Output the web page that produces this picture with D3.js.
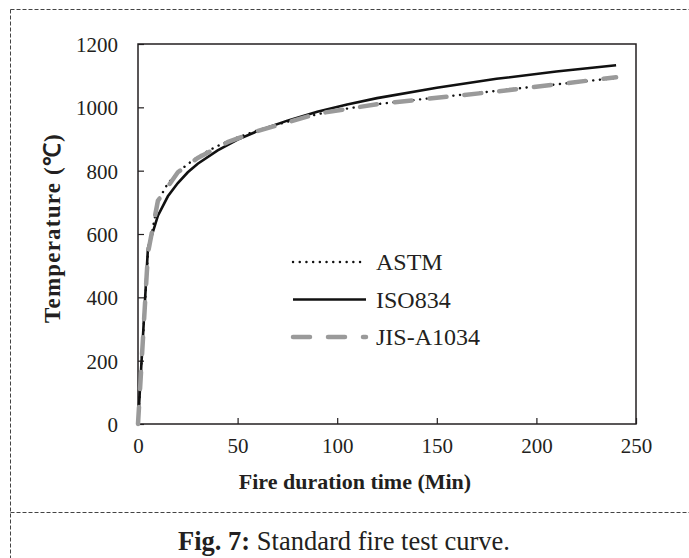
<!DOCTYPE html>
<html>
<head>
<meta charset="utf-8">
<script src="https://cdn.jsdelivr.net/npm/d3@7"></script>
<style>
  body { margin: 0; background: #fff; }
  text { font-family: "Liberation Serif", "Times New Roman", serif; fill: #231f20; }
</style>
</head>
<body>
<div id="chart"></div>
<script>
// Data (time in min, temperature in degC)
var astmTime = [0, 5, 10, 15, 20, 25, 30, 35, 40, 45, 50, 55, 60, 70, 80, 90, 100, 110, 120, 140, 160, 180, 200, 220, 240];
var astmTemp = [0, 538, 704, 760, 795, 821, 843, 862, 878, 892, 905, 916, 927, 946, 963, 978, 991, 1001, 1010, 1024, 1038, 1052, 1066, 1079, 1093];

var isoTime = [0, 5, 10, 15, 20, 25, 30, 40, 50, 60, 75, 90, 105, 120, 150, 180, 210, 240];
var isoTemp = [0, 556, 658, 719, 761, 795, 822, 864, 898, 925, 958, 986, 1009, 1029, 1062, 1090, 1113, 1133];

var jisTime = [0, 5, 10, 20, 30, 45, 60, 90, 120, 180, 240];
var jisTemp = [0, 540, 705, 795, 840, 890, 925, 980, 1010, 1050, 1095];

var seriesNames = ["ASTM", "ISO834", "JIS-A1034"];
var xTicks = [0, 50, 100, 150, 200, 250];
var yTicks = [0, 200, 400, 600, 800, 1000, 1200];

var svgWidth = 689;
var svgHeight = 558;
var margin = { top: 44, right: 53, bottom: 134, left: 138 };
var chartWidth = svgWidth - margin.left - margin.right;
var chartHeight = svgHeight - margin.top - margin.bottom;

var svg = d3.select("#chart")
  .append("svg")
  .attr("width", svgWidth)
  .attr("height", svgHeight);

// dashed page frame
var frame = svg.append("g")
  .attr("stroke", "#444")
  .attr("stroke-width", 1)
  .attr("stroke-dasharray", "4,2")
  .attr("fill", "none");
frame.append("line").attr("x1", 10.5).attr("y1", 9.5).attr("x2", svgWidth).attr("y2", 9.5);
frame.append("line").attr("x1", 10.5).attr("y1", 9.5).attr("x2", 10.5).attr("y2", svgHeight);
frame.append("line").attr("x1", 10.5).attr("y1", 512.5).attr("x2", svgWidth).attr("y2", 512.5);

var chart = svg.append("g")
  .attr("transform", "translate(" + margin.left + "," + margin.top + ")");

var x = d3.scaleLinear().domain([0, 250]).range([0, chartWidth]);
var y = d3.scaleLinear().domain([0, 1200]).range([chartHeight, 0]);

// axes with inward ticks
var xAxis = chart.append("g")
  .attr("transform", "translate(0," + chartHeight + ")")
  .call(d3.axisBottom(x).tickValues(xTicks).tickFormat(d3.format("d")).tickSize(-6).tickPadding(14));
var yAxis = chart.append("g")
  .call(d3.axisLeft(y).tickValues(yTicks).tickFormat(d3.format("d")).tickSize(-6).tickPadding(20));

[xAxis, yAxis].forEach(function(a) {
  a.select(".domain").remove();
  a.selectAll(".tick line").attr("stroke", "#231f20").attr("stroke-width", 1.2);
  a.selectAll(".tick text")
    .style("font-family", "'Liberation Serif', serif")
    .style("font-size", "21px")
    .attr("fill", "#231f20");
});
xAxis.selectAll(".tick text").attr("dy", "0.71em");
yAxis.selectAll(".tick text").attr("dy", "0.35em");

// plot box
chart.append("rect")
  .attr("x", 0).attr("y", 0)
  .attr("width", chartWidth).attr("height", chartHeight)
  .attr("fill", "none")
  .attr("stroke", "#231f20")
  .attr("stroke-width", 1.5);

var line = d3.line()
  .x(function(d) { return x(d[0]); })
  .y(function(d) { return y(d[1]); });

var styles = [
  { color: "#111", width: 2.4, dash: "0.1,6.6", cap: "round" },
  { color: "#111", width: 2.6, dash: null, cap: "butt" },
  { color: "#9a9a9a", width: 4.5, dash: "17,18", cap: "round" }
];

var series = [
  d3.zip(astmTime, astmTemp),
  d3.zip(isoTime, isoTemp),
  d3.zip(jisTime, jisTemp)
];

// draw ISO first, then ASTM, then JIS on top
[1, 0, 2].forEach(function(i) {
  chart.append("path")
    .datum(series[i])
    .attr("d", line)
    .attr("fill", "none")
    .attr("stroke", styles[i].color)
    .attr("stroke-width", styles[i].width)
    .attr("stroke-linecap", styles[i].cap)
    .attr("stroke-dasharray", styles[i].dash);
});

// legend
var legend = svg.append("g").attr("transform", "translate(293,262)");
seriesNames.forEach(function(name, i) {
  var row = legend.append("g").attr("transform", "translate(0," + (i * 37.5) + ")");
  row.append("line")
    .attr("x1", 0).attr("x2", 73)
    .attr("stroke", styles[i].color)
    .attr("stroke-width", styles[i].width)
    .attr("stroke-linecap", styles[i].cap)
    .attr("stroke-dasharray", styles[i].dash);
  row.append("text")
    .attr("x", 83)
    .attr("dy", "0.35em")
    .style("font-size", "24px")
    .text(name);
});

// axis titles
svg.append("text")
  .attr("x", 355)
  .attr("y", 489)
  .attr("text-anchor", "middle")
  .style("font-size", "22px")
  .style("font-weight", "bold")
  .text("Fire duration time (Min)");

svg.append("text")
  .attr("transform", "translate(60,228) rotate(-90)")
  .attr("text-anchor", "middle")
  .style("font-size", "23px")
  .style("font-weight", "bold")
  .style("letter-spacing", "1.2px")
  .text("Temperature (℃)");

// caption
var caption = svg.append("text")
  .attr("x", 344)
  .attr("y", 550)
  .attr("text-anchor", "middle")
  .style("font-size", "26.5px");
caption.append("tspan").style("font-weight", "bold").text("Fig. 7:");
caption.append("tspan").text(" Standard fire test curve.");
</script>
</body>
</html>
